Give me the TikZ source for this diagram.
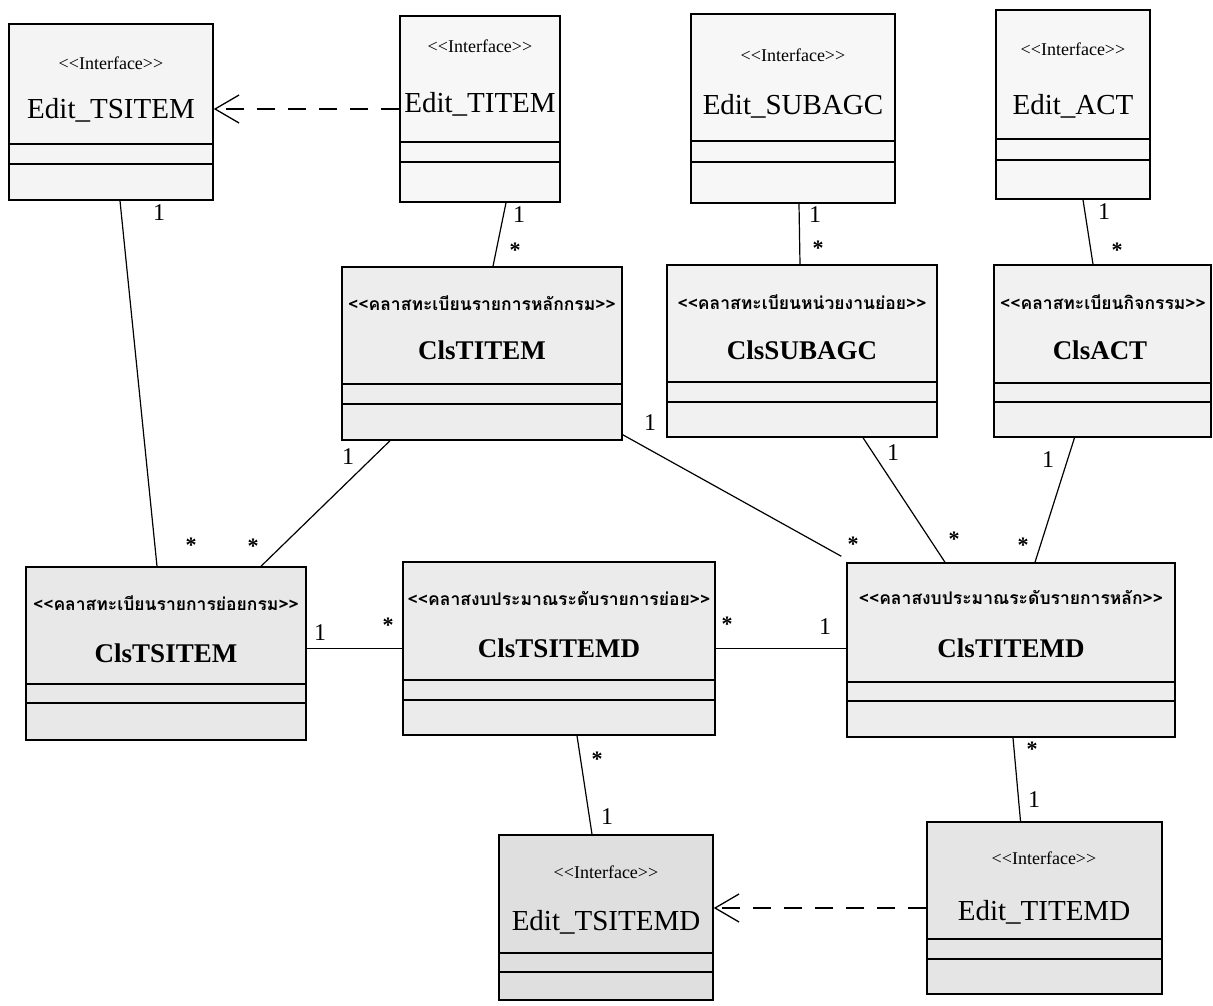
\documentclass[tikz,border=0pt]{standalone}
\usepackage{fontspec}
\setmainfont{Liberation Serif}
\newfontfamily\thaifont[Script=Thai]{Loma}
\usetikzlibrary{arrows.meta,fit,calc}
\tikzset{
  boxshape/.style={draw, line width=1.5pt, inner sep=0pt},
  cline/.style={line width=1.5pt},
  assoc/.style={line width=1.2pt},
  realize/.style={line width=1.2pt, dash pattern=on 18pt off 13pt, -{Straight Barb[length=24pt,width=28pt,line width=1.3pt]}},
  stereoI/.style={font=\fontsize{18}{18}\selectfont},
  nameI/.style={font=\fontsize{29}{29}\selectfont},
  stereoT/.style={font=\thaifont\bfseries\fontsize{17.5}{17.5}\selectfont},
  nameC/.style={font=\bfseries\fontsize{27}{27}\selectfont},
  mult/.style={font=\fontsize{24}{24}\selectfont, inner sep=1pt},
  star/.style={font=\bfseries\fontsize{22}{22}\selectfont, inner sep=1pt}
}
\newcommand\umlbox[8]{%
  \node[boxshape, fill=#8, fit={(#2,#3) (#4,#5)}] (#1) {};
  \draw[cline] (#2,#6) -- (#4,#6);
  \draw[cline] (#2,#7) -- (#4,#7);
}
\newcommand\stI{<{}<Interface>{}>}
\begin{document}
\begin{tikzpicture}[x=1pt,y=-1pt]
\useasboundingbox (0,0) rectangle (1213,1006);
\fill[white] (0,0) rectangle (1213,1006);
% boxes
\umlbox{etsitem}{9}{24}{213}{200}{144}{164}{gray!9}
\umlbox{etitem}{400}{16}{560}{202}{142}{162}{gray!6}
\umlbox{esubagc}{691}{14}{895}{203}{141}{162}{gray!6}
\umlbox{eact}{996}{10}{1150}{199}{139}{160}{gray!6}
\umlbox{clstitem}{342}{267}{622}{440}{384}{404}{gray!14}
\umlbox{clssubagc}{667}{265}{937}{437}{382}{402}{gray!11}
\umlbox{clsact}{994}{265}{1211}{437}{383}{402}{gray!11}
\umlbox{clstsitem}{26}{567}{306}{740}{684}{703}{gray!18}
\umlbox{clstsitemd}{403}{562}{715}{735}{680}{700}{gray!16}
\umlbox{clstitemd}{847}{563}{1175}{737}{682}{701}{gray!14}
\umlbox{etsitemd}{499}{835}{713}{1000}{953}{972}{gray!25}
\umlbox{etitemd}{927}{822}{1162}{994}{939}{959}{gray!20}
% texts
\node[stereoI] (t1s) at (111,63) {\stI};
\node[nameI] (t1n) at (111,110) {Edit\_TSITEM};
\node[stereoI] (t2s) at (480,46) {\stI};
\node[nameI] (t2n) at (480,104) {Edit\_TITEM};
\node[stereoI] (t3s) at (793,55) {\stI};
\node[nameI] (t3n) at (793,106) {Edit\_SUBAGC};
\node[stereoI] (t4s) at (1073,49) {\stI};
\node[nameI] (t4n) at (1073,106) {Edit\_ACT};
\node[stereoT] (t5s) at (482,303) {<<คลาสทะเบียนรายการหลักกรม>>};
\node[nameC] (t5n) at (482,350) {ClsTITEM};
\node[stereoT] (t6s) at (802,302) {<<คลาสทะเบียนหน่วยงานย่อย>>};
\node[nameC] (t6n) at (802,350) {ClsSUBAGC};
\node[stereoT] (t7s) at (1103,302) {<<คลาสทะเบียนกิจกรรม>>};
\node[nameC] (t7n) at (1100,350) {ClsACT};
\node[stereoT] (t8s) at (166,603) {<<คลาสทะเบียนรายการย่อยกรม>>};
\node[nameC] (t8n) at (166,653) {ClsTSITEM};
\node[stereoT] (t9s) at (559,598) {<<คลาสงบประมาณระดับรายการย่อย>>};
\node[nameC] (t9n) at (559,648) {ClsTSITEMD};
\node[stereoT] (t10s) at (1011,597) {<<คลาสงบประมาณระดับรายการหลัก>>};
\node[nameC] (t10n) at (1011,648) {ClsTITEMD};
\node[stereoI] (t11s) at (606,872) {\stI};
\node[nameI] (t11n) at (606,922) {Edit\_TSITEMD};
\node[stereoI] (t12s) at (1044,858) {\stI};
\node[nameI] (t12n) at (1044,912) {Edit\_TITEMD};
% dependencies
\draw[realize] (etitem.west) -- (etitem.west -| etsitem.east);
\draw[realize] (etitemd.west) -- (etitemd.west -| etsitemd.east);
% associations
\draw[assoc] ([xshift=9pt]etsitem.south) -- ([xshift=-9pt]clstsitem.north);
\draw[assoc] ([xshift=26pt]etitem.south) -- ([xshift=11pt]clstitem.north);
\draw[assoc] ([xshift=6pt]esubagc.south) -- ([xshift=-2pt]clssubagc.north);
\draw[assoc] ([xshift=10pt]eact.south) -- ([xshift=-9.5pt]clsact.north);
\draw[assoc] ([xshift=-92pt]clstitem.south) -- ([xshift=95pt]clstsitem.north);
\draw[assoc] ([yshift=6pt]clstitem.south east) -- ([xshift=-5pt,yshift=6pt]clstitemd.north west);
\draw[assoc] ([xshift=61pt]clssubagc.south) -- ([xshift=-66pt]clstitemd.north);
\draw[assoc] ([xshift=-28pt]clsact.south) -- ([xshift=24pt]clstitemd.north);
\draw[assoc] (clstsitem.east |- clstsitemd.west) -- (clstsitemd.west);
\draw[assoc] (clstsitemd.east) -- (clstsitemd.east -| clstitemd.west);
\draw[assoc] ([xshift=18pt]clstsitemd.south) -- ([xshift=-14pt]etsitemd.north);
\draw[assoc] ([xshift=2pt]clstitemd.south) -- ([xshift=-24pt]etitemd.north);
% multiplicities
\node[mult] (m1) at (159,213) {1};
\node[star] (s1) at (191,545) {*};
\node[mult] (m2) at (519,215) {1};
\node[star] (s2) at (515,250) {*};
\node[mult] (m3) at (815,215) {1};
\node[star] (s3) at (818,248) {*};
\node[mult] (m4) at (1104,212) {1};
\node[star] (s4) at (1117,250) {*};
\node[mult] (m5) at (348,457) {1};
\node[star] (s5) at (253,546) {*};
\node[mult] (m6) at (650,423) {1};
\node[star] (s6) at (853,544) {*};
\node[mult] (m7) at (893,453) {1};
\node[star] (s7) at (954,539) {*};
\node[mult] (m8) at (1048,460) {1};
\node[star] (s8) at (1023,545) {*};
\node[mult] (m9) at (320,633) {1};
\node[star] (s9) at (388,625) {*};
\node[star] (s10) at (727,624) {*};
\node[mult] (m10) at (825,627) {1};
\node[star] (s11) at (597,759) {*};
\node[mult] (m11) at (607,817) {1};
\node[star] (s12) at (1032,749) {*};
\node[mult] (m12) at (1034,800) {1};
\end{tikzpicture}
\end{document}
